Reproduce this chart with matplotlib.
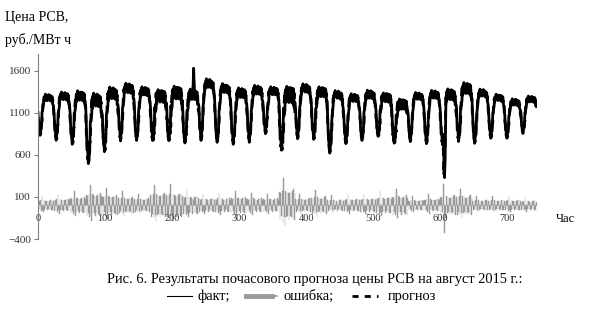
import numpy as np
import matplotlib.pyplot as plt
from matplotlib.lines import Line2D

plt.rcParams['font.family'] = ['Liberation Serif', 'DejaVu Serif']

# ============================================
# Data (August 2015, 744 hours)
# ============================================

# daily minimum / maximum of the fact price, rub/MWh
day_low = [855, 800, 760, 545, 680, 800, 800, 820, 820, 780, 800, 780, 760, 780, 880, 720,
           820, 820, 645, 760, 800, 855, 780, 780, 760, 760, 800, 760, 820, 820, 875]
day_high = [1295, 1315, 1320, 1275, 1355, 1410, 1375, 1315, 1355, 1335, 1470, 1410, 1355, 1390, 1375, 1335,
            1410, 1365, 1335, 1295, 1335, 1295, 1215, 1315, 1335, 1335, 1410, 1355, 1295, 1240, 1275]

# typical shape of one day (0 = night minimum, 1 = day maximum)
hour_shape = [0.50, 0.25, 0.08, 0.00, 0.05, 0.20, 0.45, 0.70, 0.85, 0.92, 0.97, 1.00,
              0.97, 0.95, 0.96, 0.98, 1.00, 0.97, 0.94, 0.95, 0.96, 0.92, 0.85, 0.70]

# size of the forecast error in each day and its hourly pattern
err_scale = [110, 130, 170, 240, 210, 170, 140, 245, 250, 190, 140, 150, 170, 150, 140, 320,
             140, 180, 120, 130, 140, 170, 200, 110, 130, 200, 200, 110, 110, 110, 100]
err_shape = [0.50, -0.55, 0.45, -0.40, 0.55, -0.60, 1.00, -0.45, -0.75, 0.55, -0.45, 0.50,
             -0.40, 0.45, -0.55, 0.45, -0.40, 0.50, -0.45, 0.55, -0.50, 0.60, -0.55, 0.45]

# single hours that stand out
spike_hours = [232, 605, 606, 607]
spike_fact = [1630, 620, 330, 560]
spike_err = [60, 260, -330, -150]

y_ticks = [1600, 1100, 600, 100, -400]
x_ticks = [0, 100, 200, 300, 400, 500, 600, 700]

# ============================================
# Build hourly series
# ============================================

hours = np.arange(744)
day = hours // 24
hh = hours % 24

low = np.array(day_low)[day]
high = np.array(day_high)[day]
base = low + np.array(hour_shape)[hh] * (high - low)
error = np.array(err_scale)[day] * np.array(err_shape)[hh]

fact = base + error / 2
fact[spike_hours] = spike_fact
error[spike_hours] = spike_err
forecast = fact - error

# ============================================
# Plot
# ============================================

fig = plt.figure(figsize=(5.95, 3.13), dpi=100)
ax = fig.add_axes([0.0639, 0.2364, 0.8387, 0.5911])

ax.bar(hours, error, width=1.0, color="#999999", edgecolor="#999999", linewidth=0.3)
ax.plot(hours, fact, color="black", lw=2.0)
ax.plot(hours, forecast, color="black", lw=2.0, ls=(0, (3, 2)))

ax.set_xlim(0, 744)
ax.set_ylim(-400, 1800)

for s in ["top", "right"]:
    ax.spines[s].set_visible(False)
ax.spines["left"].set_color("#808080")
ax.spines["left"].set_linewidth(0.8)
ax.spines["bottom"].set_position(("data", 0))
ax.spines["bottom"].set_color("#b0b0b0")
ax.spines["bottom"].set_linewidth(0.6)

ax.set_yticks(y_ticks)
ax.set_xticks(x_ticks)
ax.tick_params(axis="y", direction="out", length=3, color="#808080", labelsize=8, pad=2, labelcolor="#333333")
ax.tick_params(axis="x", length=0, labelsize=7.5, pad=6, labelcolor="#333333")

fig.text(5 / 595, 1 - 17 / 313, "Цена РСВ,", fontsize=10, va="center", ha="left")
fig.text(5 / 595, 1 - 40 / 313, "руб./МВт ч", fontsize=10, va="center", ha="left")
fig.text(556 / 595, 1 - 219 / 313, "Час", fontsize=9, va="center", ha="left")

fig.text(315 / 595, 1 - 283 / 313,
         "Рис. 6. Результаты почасового прогноза цены РСВ на август 2015 г.:",
         fontsize=10.4, va="baseline", ha="center")

# legend line under the caption
ly = 1 - 296 / 313
by = 1 - 300 / 313
fig.add_artist(Line2D([167 / 595, 192 / 595], [ly, ly], color="black", lw=0.8))
fig.text(198 / 595, by, "факт;", fontsize=10.4, va="baseline", ha="left")
fig.add_artist(Line2D([246 / 595, 272 / 595], [ly, ly], color="#9a9a9a", lw=3.5))
fig.add_artist(Line2D([275 / 595, 277 / 595], [ly, ly], color="#9a9a9a", lw=1.2))
fig.text(283 / 595, by, "ошибка;", fontsize=10.4, va="baseline", ha="left")
fig.add_artist(Line2D([352 / 595, 378 / 595], [ly, ly], color="black", lw=2.0, ls=(0, (2.2, 2.2))))
fig.text(388 / 595, by, "прогноз", fontsize=10.4, va="baseline", ha="left")

fig.savefig("out.png", dpi=100)
